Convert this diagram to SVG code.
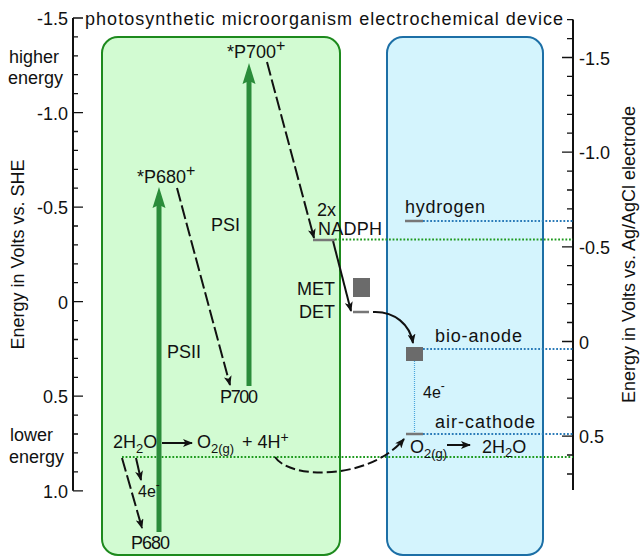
<svg xmlns="http://www.w3.org/2000/svg" width="641" height="557" viewBox="0 0 641 557">
<style>
text{font-family:"Liberation Sans",Arial,sans-serif;font-size:18px;fill:#111}
.ax{stroke:#111;stroke-width:2;fill:none}
.tk{stroke:#111;stroke-width:1.3;fill:none}
.gdot{stroke:#1e9a1e;stroke-width:2.2;stroke-dasharray:1.8 1.8;fill:none}
.bdot{stroke:#2a7bb8;stroke-width:2.2;stroke-dasharray:1.8 1.8;fill:none}
.lvl{stroke:#777;stroke-width:2.5;fill:none}
.sq{fill:#6b6b6b}
.arr{stroke:#111;stroke-width:2;fill:none;marker-end:url(#ah)}
.dash{stroke-dasharray:14 4}
.dash2{stroke-dasharray:10 4}
.garr{stroke:#2a8c3a;stroke-width:5;fill:none}
.ghead{fill:#2a8c3a}
.sm{font-size:16px}
</style>
<defs>
<marker id="ah" viewBox="0 0 10 8" refX="9" refY="4" markerWidth="10" markerHeight="8" markerUnits="userSpaceOnUse" orient="auto"><path d="M0,0 L10,4 L0,8 L2.5,4 z" fill="#111"/></marker>
</defs>

<g id="green-box"><rect x="102" y="37" width="238" height="518" rx="16" fill="#d2fbd2" stroke="#1d8a1d" stroke-width="2"/></g>
<g id="blue-box"><rect x="387" y="37" width="156" height="518" rx="16" fill="#d4f4fd" stroke="#1c6fa6" stroke-width="2"/></g>

<g id="title"><text x="85" y="25" font-size="19" textLength="478" lengthAdjust="spacing">photosynthetic microorganism electrochemical device</text></g>

<g id="left-axis">
<path class="ax" d="M73,18 V490.8"/>
<path class="tk" d="M73,18h10M73,36.9h5M73,55.8h5M73,74.7h5M73,93.6h5M73,112.6h10M73,131.5h5M73,150.4h5M73,169.3h5M73,188.2h5M73,207.1h10M73,226h5M73,244.9h5M73,263.8h5M73,282.7h5M73,301.7h10M73,320.6h5M73,339.5h5M73,358.4h5M73,377.3h5M73,396.2h10M73,415.1h5M73,434h5M73,452.9h5M73,471.8h5M73,490.8h10"/>
<g text-anchor="end">
<text x="68" y="25">-1.5</text>
<text x="68" y="119.6">-1.0</text>
<text x="68" y="214">-0.5</text>
<text x="68" y="308.7">0</text>
<text x="68" y="403.2">0.5</text>
<text x="68" y="497.8">1.0</text>
</g>
<text x="9" y="62.7">higher</text>
<text x="8" y="83.5">energy</text>
<text x="10" y="441">lower</text>
<text x="9" y="463">energy</text>
<text transform="translate(24,254.5) rotate(-90)" text-anchor="middle" font-size="20">Energy in Volts vs. SHE</text>
</g>

<g id="right-axis">
<path class="ax" d="M573,19.6 V490"/>
<path class="tk" d="M573,19.6h-6M573,38.6h-6M573,57.5h-11M573,76.4h-6M573,95.4h-6M573,114.3h-6M573,133.2h-6M573,152.2h-11M573,171.1h-6M573,190h-6M573,208.9h-6M573,227.9h-6M573,246.8h-11M573,265.7h-6M573,284.7h-6M573,303.6h-6M573,322.5h-6M573,341.5h-11M573,360.4h-6M573,379.3h-6M573,398.2h-6M573,417.2h-6M573,436.1h-11M573,455h-6M573,474h-6"/>
<text x="579" y="64.5">-1.5</text>
<text x="579" y="159.2">-1.0</text>
<text x="579" y="253.8">-0.5</text>
<text x="579" y="348.5">0</text>
<text x="579" y="443.1">0.5</text>
<text transform="translate(635,254.5) rotate(-90)" text-anchor="middle" font-size="20">Energy in Volts vs. Ag/AgCl electrode</text>
</g>

<g id="connectors">
<path class="gdot" d="M122,457 H573"/>
<path class="gdot" d="M335,239.5 H573"/>
<path class="bdot" d="M423,221 H573"/>
<path class="bdot" d="M423,349 H573"/>
<path class="bdot" d="M423,434 H573"/>
<path d="M414.5,361 V434" stroke="#4aa6dc" stroke-width="1.2" stroke-dasharray="1 1" fill="none"/>
<path class="garr" d="M159,532 V203"/>
<path class="ghead" d="M159,187 L152.5,208 L159,205 L165.5,208 z"/>
<path class="garr" d="M249,386 V79"/>
<path class="ghead" d="M249,63 L242.5,84 L249,81 L255.5,84 z"/>
<path class="arr dash" d="M267,62 L314,238"/>
<path class="arr dash" d="M177,188 L230,385"/>
<path class="arr" d="M333,241 L351,311"/>
<path class="arr" d="M373,312 C395,311 410,325 413,343"/>
<path class="arr dash2" d="M275,457 C290,480 370,480 404,439"/>
<path class="arr" d="M162,443 H192"/>
<path class="arr" d="M447,445 H470"/>
<path class="arr" d="M136,458 L141,480"/>
<path class="arr dash" d="M122,458 L142,528"/>
</g>

<g id="P700-excited"><text x="227" y="58">*P700<tspan font-size="16" dy="-7">+</tspan></text></g>
<g id="P680-excited"><text x="137" y="183">*P680<tspan font-size="16" dy="-7">+</tspan></text></g>
<g id="PSI"><text x="211" y="231">PSI</text></g>
<g id="PSII"><text x="167" y="358">PSII</text></g>
<g id="P700"><text x="220" y="403" textLength="38">P700</text></g>
<g id="P680"><text x="131" y="549" textLength="39">P680</text></g>
<g id="water-oxidation">
<text x="113" y="448">2H<tspan font-size="13" dy="5">2</tspan><tspan dy="-5">O</tspan></text>
<text x="197" y="448">O<tspan font-size="13" dy="5">2(g)</tspan></text>
<text x="242" y="448">+ 4H<tspan font-size="14" dy="-6">+</tspan></text>
<text x="138" y="497" class="sm">4e<tspan font-size="12" dy="-8">-</tspan></text>
</g>
<g id="NADPH">
<path class="lvl" d="M313,240 H335"/>
<text x="317" y="216">2x</text>
<text x="318" y="235" textLength="64">NADPH</text>
</g>
<g id="MET-DET">
<rect class="sq" x="353" y="278" width="17" height="19"/>
<path class="lvl" d="M353,312 H369"/>
<text x="335" y="295" text-anchor="end">MET</text>
<text x="335" y="318" text-anchor="end">DET</text>
</g>
<g id="hydrogen">
<path class="lvl" d="M405,221 H423"/>
<text x="405" y="213" textLength="80">hydrogen</text>
</g>
<g id="bio-anode">
<rect class="sq" x="406" y="347" width="17" height="14"/>
<text x="435" y="342" textLength="87">bio-anode</text>
</g>
<g id="air-cathode">
<path class="lvl" d="M406,434 H423"/>
<text x="435" y="428" textLength="100">air-cathode</text>
<text x="423" y="398" class="sm">4e<tspan font-size="12" dy="-8">-</tspan></text>
<text x="410" y="453">O<tspan font-size="13" dy="5">2(g)</tspan></text>
<text x="482" y="453">2H<tspan font-size="13" dy="4">2</tspan><tspan dy="-4">O</tspan></text>
</g>
</svg>
